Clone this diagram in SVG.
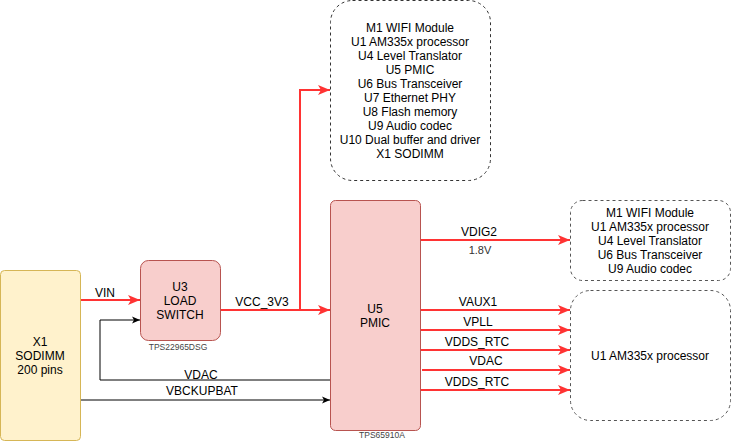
<svg xmlns="http://www.w3.org/2000/svg" width="731" height="444" viewBox="0 0 731 444">
<style>
text{font-family:"Liberation Sans",Arial,sans-serif;font-size:12px;fill:#000;text-anchor:middle}
.small{font-size:8.5px;fill:#444}
.red{fill:#f8cecc;stroke:#b85450;stroke-width:1}
.yel{fill:#fff2cc;stroke:#d6b656;stroke-width:1}
.dash{fill:#fff;stroke:#333;stroke-width:1;stroke-dasharray:3 3}
.rl{fill:none;stroke:#FF3333;stroke-width:2;marker-end:url(#ra)}
.bl{fill:none;stroke:#000;stroke-width:1;marker-end:url(#ba)}
</style>
<defs>
<marker id="ra" markerUnits="userSpaceOnUse" markerWidth="14" markerHeight="12" refX="12" refY="5" orient="auto" overflow="visible">
<path d="M0,0 L12,5 L0,10 L3,5 Z" fill="#FF3333"/>
</marker>
<marker id="ba" markerUnits="userSpaceOnUse" markerWidth="10" markerHeight="8" refX="8" refY="3.5" orient="auto" overflow="visible">
<path d="M0,0 L8,3.5 L0,7 L2,3.5 Z" fill="#000"/>
</marker>
</defs>
<g id="connectors">
<path class="rl" d="M80,300 L140,300"/>
<path class="rl" d="M220,310 L330,310"/>
<path class="rl" d="M300,310 L300,90 L330,90"/>
<path class="bl" d="M330,380 L100,380 L100,320 L140,320"/>
<path class="bl" d="M80,400 L330,400"/>
<path class="rl" d="M420,240 L570,240"/>
<path class="rl" d="M420,310 L570,310"/>
<path class="rl" d="M420,330 L570,330"/>
<path class="rl" d="M420,350 L570,350"/>
<path class="rl" d="M422,370 L570,370"/>
<path class="rl" d="M420,390 L570,390"/>
<text x="105" y="296.5">VIN</text>
<text x="262" y="306">VCC_3V3</text>
<text x="201" y="379">VDAC</text>
<text x="202" y="394.5">VBCKUPBAT</text>
<text x="479" y="235.5">VDIG2</text>
<text x="480" y="254" style="font-size:11px;fill:#333">1.8V</text>
<text x="478" y="306">VAUX1</text>
<text x="478" y="326">VPLL</text>
<text x="477" y="346">VDDS_RTC</text>
<text x="486" y="365">VDAC</text>
<text x="477" y="386">VDDS_RTC</text>
</g>
<g id="X1">
<rect class="yel" x="0.5" y="270.5" width="80" height="170" rx="4"/>
<text x="40" y="345.5">X1</text>
<text x="40" y="359.5">SODIMM</text>
<text x="40" y="373.5">200 pins</text>
</g>
<g id="U3">
<rect class="red" x="140.5" y="260.5" width="80" height="80" rx="8"/>
<text x="180" y="290.5">U3</text>
<text x="180" y="304.5">LOAD</text>
<text x="180" y="318.5">SWITCH</text>
<text class="small" x="178" y="350">TPS22965DSG</text>
</g>
<g id="U5">
<rect class="red" x="330.5" y="200.5" width="90" height="230" rx="5"/>
<text x="375" y="312.5">U5</text>
<text x="375" y="326.5">PMIC</text>
<text class="small" x="382" y="437.5">TPS65910A</text>
</g>
<g id="loads3v3">
<rect class="dash" x="330.5" y="0.5" width="160" height="180" rx="22"/>
<text x="410" y="31.5">M1 WIFI Module</text>
<text x="410" y="45.5">U1 AM335x processor</text>
<text x="410" y="59.5">U4 Level Translator</text>
<text x="410" y="73.5">U5 PMIC</text>
<text x="410" y="87.5">U6 Bus Transceiver</text>
<text x="410" y="101.5">U7 Ethernet PHY</text>
<text x="410" y="115.5">U8 Flash memory</text>
<text x="410" y="129.5">U9 Audio codec</text>
<text x="410" y="143.5">U10 Dual buffer and driver</text>
<text x="410" y="157.5">X1 SODIMM</text>
</g>
<g id="loads1v8">
<rect class="dash" x="570.5" y="200.5" width="160" height="80" rx="12" style="stroke:#555"/>
<text x="650" y="217">M1 WIFI Module</text>
<text x="650" y="231">U1 AM335x processor</text>
<text x="650" y="245">U4 Level Translator</text>
<text x="650" y="259">U6 Bus Transceiver</text>
<text x="650" y="273">U9 Audio codec</text>
</g>
<g id="processor">
<rect class="dash" x="570.5" y="290.5" width="160" height="130" rx="20" style="stroke:#555"/>
<text x="650" y="360">U1 AM335x processor</text>
</g>
</svg>
